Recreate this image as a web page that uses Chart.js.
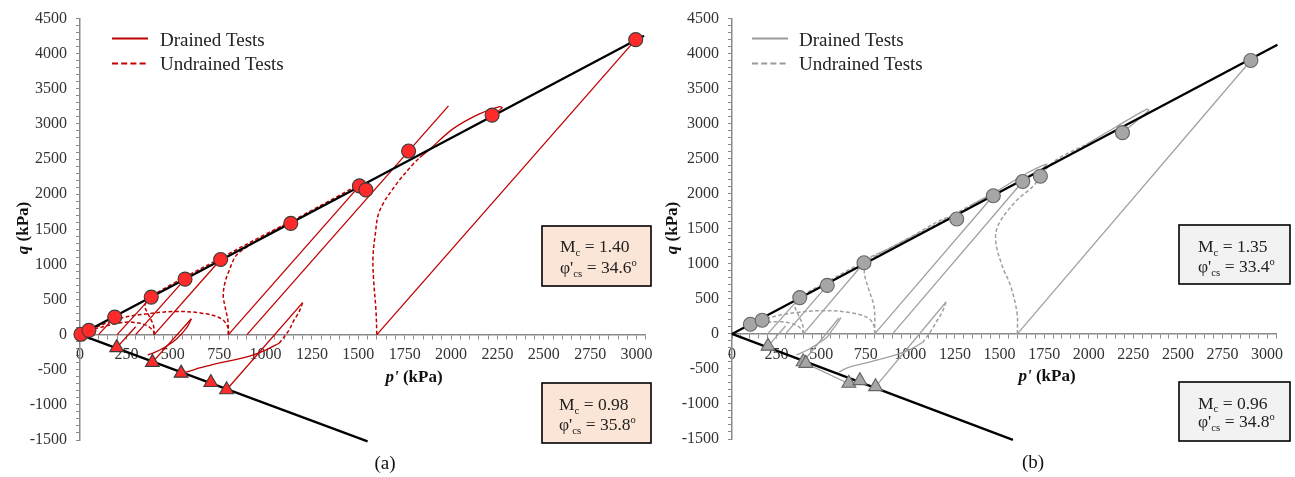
<!DOCTYPE html>
<html><head><meta charset="utf-8">
<script src="https://cdn.jsdelivr.net/npm/chart.js@4.4.1/dist/chart.umd.min.js"></script>
<style>
html,body{margin:0;padding:0;background:#fff;width:1295px;height:477px;overflow:hidden}
canvas{position:absolute;top:0}
#ca{left:0}
#cb{left:655px}
</style></head><body>
<canvas id="ca" width="655" height="477"></canvas>
<canvas id="cb" width="640" height="477"></canvas>
<script>
// ---------- tick labels ----------
const xMajorTicks = [0,250,500,750,1000,1250,1500,1750,2000,2250,2500,2750,3000];
const yMajorTicks = [-1500,-1000,-500,0,500,1000,1500,2000,2500,3000,3500,4000,4500];

// ---------- (a) ----------
const cslCompA = [[0,0],[3040,4256]];
const cslExtA  = [[0,0],[1550,-1519]];
const failCompA = [[5,5],[48,61],[187,250],[384,535],[566,790],[758,1070],[1136,1585],[1506,2118],[1541,2061],[1771,2614],[2221,3125],[2995,4200]];
const failExtA  = [[198,-185],[390,-395],[545,-548],[705,-682],[790,-785]];
const drainedA = [
  [[100,0],[187,250]],
  [[200,0],[384,535]],
  [[300,0],[566,790]],
  [[400,0],[758,1070]],
  [[800,0],[1506,2118]],
  [[900,0],[1986,3258]],
  [[1600,0],[2995,4200]],
  [[300,113],[198,-185]],
  [[600,227],[390,-395]],
  [[1200,455],[790,-785]]
];
const undrainedA = [
  [[800,0],[798,100],[762,227],[655,306],[512,330],[334,288],[210,227],[85,104],[30,40],[5,5]],
  [[400,0],[395,50],[360,130],[281,178],[200,160],[120,110],[48,61]],
  [[400,0],[396,130],[372,270],[350,400],[362,490],[384,545],[500,725],[758,1090],[1000,1430],[1136,1612]],
  [[800,0],[797,200],[780,420],[772,560],[782,750],[802,900],[841,1125],[900,1250],[1000,1410],[1200,1700],[1400,1985],[1506,2140],[1530,2150],[1541,2061]],
  [[1600,0],[1595,350],[1582,800],[1579,1100],[1590,1400],[1615,1765],[1705,2143],[1795,2427],[1831,2521]],
  [[1200,455],[1180,320],[1150,190],[1126,61],[1073,-123]]
];
const undrainedSolidA = [
  [[1831,2521],[1885,2640],[2010,2930],[2150,3140],[2262,3245],[2275,3228],[2221,3125]],
  [[1073,-123],[1000,-220],[931,-293],[850,-350],[735,-411],[650,-470],[575,-530],[545,-548]],
  [[600,227],[585,140],[560,50],[512,-80],[450,-190],[400,-255],[365,-290]]
];

// ---------- (b) ----------
const cslCompB = [[0,0],[3058,4128]];
const cslExtB  = [[0,0],[1575,-1512]];
const failCompB = [[103,138],[169,195],[380,518],[534,693],[740,1015],[1260,1640],[1465,1972],[1630,2175],[1729,2251],[2189,2872],[2909,3902]];
const failExtB  = [[202,-175],[399,-398],[414,-421],[655,-705],[717,-667],[805,-753]];
const drainedB = [
  [[200,0],[380,518]],
  [[300,0],[534,693]],
  [[400,0],[740,1015]],
  [[800,0],[1465,1972]],
  [[900,0],[1630,2175]],
  [[1600,0],[2909,3902]],
  [[300,113],[202,-175]],
  [[600,227],[399,-398]],
  [[1200,455],[805,-753]],
  [[414,-421],[655,-712]]
];
const undrainedB = [
  [[800,0],[798,100],[765,225],[660,305],[517,332],[380,310],[250,258],[169,195]],
  [[400,0],[392,60],[355,130],[280,172],[200,165],[103,138]],
  [[400,0],[396,130],[372,270],[352,400],[366,490],[380,530],[500,700],[740,1030],[1000,1380],[1200,1655],[1260,1640]],
  [[800,0],[797,380],[765,650],[742,880],[760,1060],[850,1180],[1000,1375],[1200,1640],[1331,1827]],
  [[1600,0],[1598,300],[1560,700],[1517,955],[1478,1332],[1496,1570],[1594,1901],[1685,2100],[1800,2450],[1987,2706]],
  [[1200,455],[1180,320],[1150,190],[1120,60],[1070,-120]]
];
const undrainedSolidB = [
  [[1331,1827],[1500,2060],[1650,2290],[1764,2423],[1748,2370],[1729,2251]],
  [[1987,2706],[2150,2950],[2324,3205],[2336,3188],[2250,3000],[2189,2872]],
  [[1070,-120],[1000,-220],[930,-290],[850,-350],[740,-420],[650,-480],[601,-545]],
  [[611,233],[590,150],[560,50],[534,-43],[480,-140],[422,-230],[361,-300]]
];

const FONT = '"Liberation Serif", "Times New Roman", serif';
Chart.defaults.font.family = FONT;

function pts(a){ return a.map(p => ({x:p[0], y:p[1]})); }
function lineDs(d, color, dash, w, tension){
  return {data:pts(d), showLine:true, borderColor:color, backgroundColor:color, borderWidth:w, borderDash:dash,
          pointRadius:0, pointHoverRadius:0, tension:tension, fill:false, clip:false};
}
function markerDs(d, style, r, fill, stroke){
  return {data:pts(d), showLine:false, pointStyle:style, pointRadius:r, pointHoverRadius:r,
          backgroundColor:fill, borderColor:stroke, pointBorderWidth:1.1, clip:false};
}

function fontOf(s, size){ return (s.style||'') + ' ' + (size*(s.scale||1)) + 'px ' + FONT; }
function rich(ctx, segs, x, y, size, align){
  let w = 0;
  segs.forEach(s => { ctx.font = fontOf(s,size); w += ctx.measureText(s.t).width; });
  let cx = align === 'center' ? x - w/2 : x;
  ctx.textAlign = 'left';
  segs.forEach(s => { ctx.font = fontOf(s,size); ctx.fillText(s.t, cx, y + (s.dy||0)*size); cx += ctx.measureText(s.t).width; });
}
function mLine(v){ return [{t:'M'},{t:'c',scale:0.62,dy:0.22},{t:' = '+v}]; }
function phiLine(v){ return [{t:"\u03C6'"},{t:'cs',scale:0.62,dy:0.22},{t:' = '+v},{t:'o',scale:0.6,dy:-0.38}]; }

const DECOR = {
  ca: {
    legend:[{x1:112,x2:148,y:38.5,dash:[],color:'#C00000',w:2,text:'Drained Tests',tx:160,ty:46},
            {x1:112,x2:148,y:63.5,dash:[6,3.2],color:'#C00000',w:2,text:'Undrained Tests',tx:160,ty:69.5}],
    boxes:[{x:542,y:226,w:109,h:60,fill:'#FBE5D6',tx:560,l1:mLine('1.40'),b1:252,l2:phiLine('34.6'),b2:273},
           {x:542,y:383,w:109,h:60,fill:'#FBE5D6',tx:559,l1:mLine('0.98'),b1:410,l2:phiLine('35.8'),b2:430}],
    caption:{t:'(a)',x:385,y:469},
    xTitle:{x:414,y:382},
    yTitle:{x:28,y:228}
  },
  cb: {
    legend:[{x1:97,x2:133,y:38.5,dash:[],color:'#9A9A9A',w:2.2,text:'Drained Tests',tx:144,ty:46},
            {x1:97,x2:133,y:63.5,dash:[6,3.2],color:'#9A9A9A',w:2,text:'Undrained Tests',tx:144,ty:69.5}],
    boxes:[{x:524,y:225,w:111,h:59,fill:'#F2F2F2',tx:543,l1:mLine('1.35'),b1:252,l2:phiLine('33.4'),b2:272},
           {x:524,y:382,w:111,h:59,fill:'#F2F2F2',tx:543,l1:mLine('0.96'),b1:408.5,l2:phiLine('34.8'),b2:427}],
    caption:{t:'(b)',x:378,y:468},
    xTitle:{x:392,y:381},
    yTitle:{x:22,y:228}
  }
};

const decor = {
  id:'decor',
  afterDatasetsDraw(chart){
    const o = DECOR[chart.canvas.id]; if (!o) return;
    const ctx = chart.ctx;
    ctx.save();
    ctx.textBaseline = 'alphabetic';
    o.legend.forEach(it => {
      ctx.beginPath(); ctx.strokeStyle = it.color; ctx.lineWidth = it.w; ctx.setLineDash(it.dash);
      ctx.moveTo(it.x1, it.y); ctx.lineTo(it.x2, it.y); ctx.stroke(); ctx.setLineDash([]);
      ctx.fillStyle = '#222'; ctx.font = '19px ' + FONT; ctx.textAlign = 'left';
      ctx.fillText(it.text, it.tx, it.ty);
    });
    o.boxes.forEach(b => {
      ctx.fillStyle = b.fill; ctx.fillRect(b.x, b.y, b.w, b.h);
      ctx.strokeStyle = '#000'; ctx.lineWidth = 1.6; ctx.strokeRect(b.x, b.y, b.w, b.h);
      ctx.fillStyle = '#222';
      rich(ctx, b.l1, b.tx, b.b1, 17.5, 'left');
      rich(ctx, b.l2, b.tx, b.b2, 17.5, 'left');
    });
    ctx.fillStyle = '#111'; ctx.font = '19px ' + FONT; ctx.textAlign = 'center';
    ctx.fillText(o.caption.t, o.caption.x, o.caption.y);
    rich(ctx, [{t:"p'",style:'italic bold'},{t:' (kPa)',style:'bold'}], o.xTitle.x, o.xTitle.y, 17, 'center');
    ctx.save();
    ctx.translate(o.yTitle.x, o.yTitle.y); ctx.rotate(-Math.PI/2);
    rich(ctx, [{t:'q',style:'italic bold'},{t:' (kPa)',style:'bold'}], 0, 0, 17, 'center');
    ctx.restore();
    ctx.restore();
  }
};

function makeChart(id, c){
  const ds = [];
  ds.push(markerDs(c.failComp,'circle',7,c.mFill,c.mStroke));
  ds.push(markerDs(c.failExt,'triangle',8,c.mFill,c.mStroke));
  ds.push(lineDs(c.cslComp,'#000',[],2.3,0));
  ds.push(lineDs(c.cslExt,'#000',[],2.3,0));
  c.drained.forEach(d => ds.push(lineDs(d,c.lc,[],1.3,0)));
  c.undrainedSolid.forEach(d => ds.push(lineDs(d,c.lc,[],1.3,0.35)));
  c.undrained.forEach(d => ds.push(lineDs(d,c.lc,[3.8,2.4],1.5,0.35)));
  const tickFont = {family:FONT, size:16};
  new Chart(document.getElementById(id), {
    type:'scatter',
    data:{datasets:ds},
    options:{
      responsive:false, animation:false, events:[],
      layout:{padding:c.pad},
      plugins:{legend:{display:false}, tooltip:{enabled:false}},
      scales:{
        x:{type:'linear', min:0, max:3050, position:{y:0},
           afterBuildTicks:s => { const t=[]; for(let v=0; v<=3050; v+=50) t.push({value:v}); s.ticks=t; },
           ticks:{callback:v => xMajorTicks.includes(v) ? String(v) : '', font:tickFont, color:'#333',
                  padding:7, autoSkip:false, maxRotation:0, minRotation:0},
           grid:{drawOnChartArea:false, drawTicks:true, tickLength:4, color:'#8a8a8a', tickWidth:1},
           border:{display:true, color:'#8a8a8a', width:1.5}},
        y:{type:'linear', min:-1500, max:4500,
           afterBuildTicks:s => { const t=[]; for(let v=-1500; v<=4500; v+=100) t.push({value:v}); s.ticks=t; },
           afterFit:s => { s.width = c.yw; },
           ticks:{callback:v => yMajorTicks.includes(v) ? String(v) : '', font:tickFont, color:'#333',
                  padding:9, autoSkip:false},
           grid:{drawOnChartArea:false, drawTicks:true, tickLength:4, color:'#8a8a8a', tickWidth:1},
           border:{display:true, color:'#8a8a8a', width:1.5}}
      }
    },
    plugins:[decor]
  });
}

makeChart('ca', {failComp:failCompA, failExt:failExtA, cslComp:cslCompA, cslExt:cslExtA,
  drained:drainedA, undrained:undrainedA, undrainedSolid:undrainedSolidA,
  lc:'#C00000', mFill:'#FF2B2B', mStroke:'#3a3a3a', yw:80, pad:{left:0, top:17, right:9, bottom:37}});
makeChart('cb', {failComp:failCompB, failExt:failExtB, cslComp:cslCompB, cslExt:cslExtB,
  drained:drainedB, undrained:undrainedB, undrainedSolid:undrainedSolidB,
  lc:'#A0A0A0', mFill:'#A6A6A6', mStroke:'#666', yw:77, pad:{left:0, top:17, right:19, bottom:38}});
</script></body></html>
